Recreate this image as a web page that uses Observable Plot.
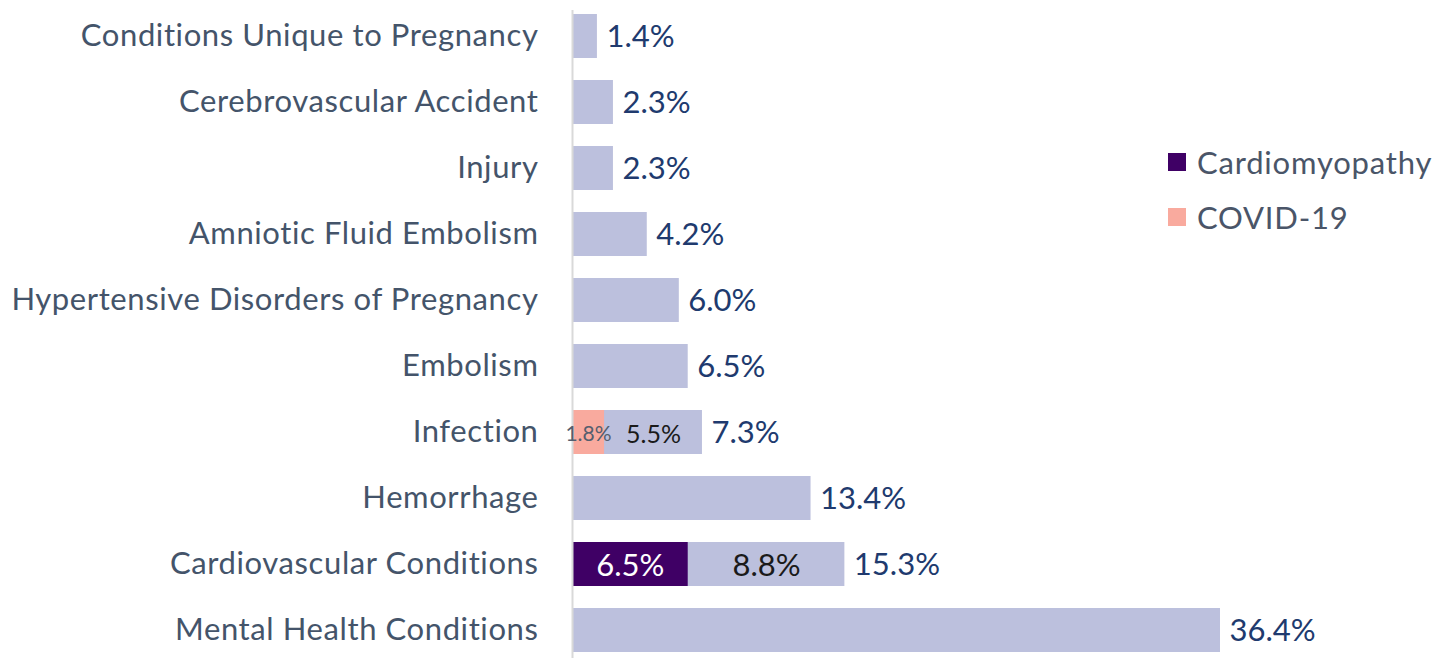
<!DOCTYPE html>
<html><head><meta charset="utf-8">
<script src="https://cdn.jsdelivr.net/npm/d3@7"></script>
<script src="https://cdn.jsdelivr.net/npm/@observablehq/plot@0.6"></script>
<style>
html,body{margin:0;padding:0;background:#fff;}
#wrap{position:relative;width:1441px;height:658px;overflow:hidden;}
#legend{position:absolute;left:1168px;top:134px;font-family:Lato,"Open Sans",sans-serif;font-size:31px;letter-spacing:0.8px;color:#4a5568;}
#legend .item{display:flex;align-items:center;height:55px;}
#legend .sw{width:18px;height:18px;margin-right:11px;}
g[aria-label="y-axis tick label"] text{letter-spacing:0.6px;}
</style></head>
<body><div id="wrap"><div id="chart"></div><div id="legend"></div></div>
<script>
const categories = ["Conditions Unique to Pregnancy","Cerebrovascular Accident","Injury","Amniotic Fluid Embolism","Hypertensive Disorders of Pregnancy","Embolism","Infection","Hemorrhage","Cardiovascular Conditions","Mental Health Conditions"];
const totals = [1.4, 2.3, 2.3, 4.2, 6.0, 6.5, 7.3, 13.4, 15.3, 36.4];
const subCategory = ["Cardiovascular Conditions","Infection"];
const subName = ["Cardiomyopathy","COVID-19"];
const subValues = [6.5, 1.8];
const restValues = [8.8, 5.5];
const subColors = ["#3f0065","#f9aa9e"];

const totalData = categories.map((c,i)=>({cat:c, v:totals[i]}));
const subData = subCategory.map((c,i)=>({cat:c, name:subName[i], v:subValues[i], total:totals[categories.indexOf(c)], rest:restValues[i]}));

const font = "Lato, 'Open Sans', sans-serif";
const chart = Plot.plot({
  width:1441, height:658,
  marginTop:10, marginBottom:0, marginLeft:0, marginRight:0,
  style:{fontFamily:font, background:"#fff"},
  x:{domain:[0,36.4], range:[572,1220], axis:null},
  y:{domain:categories, range:[3,664], paddingInner:0.33, paddingOuter:0.165, label:null},
  color:{domain:subName, range:subColors},
  marks:[
    Plot.barX(totalData,{y:"cat", x:"v", fill:"#bcc0dd"}),
    Plot.barX(subData,{y:"cat", x:"v", fill:"name"}),
    Plot.ruleX([0],{stroke:"#d9d9d9", strokeWidth:2}),
    Plot.text(totalData,{y:"cat", x:"v", text:d=>d.v.toFixed(1)+"%", textAnchor:"start", dx:9, dy:1, fill:"#203a6e", fontSize:31}),
    Plot.text(subData,{y:"cat", x:d=>d.v/2, text:d=>d.v.toFixed(1)+"%", fill:d=>d.name==="Cardiomyopathy"?"#ffffff":"#555e6e", fontSize:d=>d.name==="Cardiomyopathy"?31:21, dy:2}),
    Plot.text(subData,{y:"cat", x:d=>(d.v+d.total)/2, text:d=>d.rest.toFixed(1)+"%", fill:"#1a1a1a", fontSize:d=>d.name==="Cardiomyopathy"?31:25, dy:2}),
    Plot.axisY({anchor:"left", tickSize:0, tickPadding:0, dx:538, fontSize:31, fill:"#44546a", textAnchor:"end", label:null})
  ]
});
document.getElementById("chart").appendChild(chart);

const leg = document.getElementById("legend");
subName.forEach((n,i)=>{
  const it=document.createElement("div"); it.className="item";
  const sw=document.createElement("div"); sw.className="sw"; sw.style.background=subColors[i];
  const tx=document.createElement("span"); tx.textContent=n;
  it.appendChild(sw); it.appendChild(tx); leg.appendChild(it);
});
</script></body></html>
